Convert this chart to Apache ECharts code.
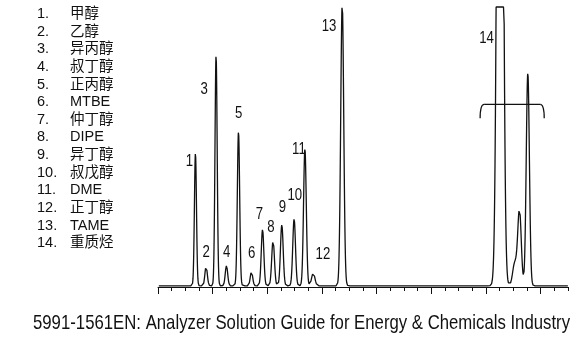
<!DOCTYPE html>
<html><head><meta charset="utf-8">
<script src="https://cdn.jsdelivr.net/npm/echarts@6/dist/echarts.min.js"></script>
<style>html,body{margin:0;padding:0;background:#fff}#c{width:583px;height:343px}</style>
</head><body><div id="c"></div>
<script>
// ---- data ----
const compoundNames = ['甲醇','乙醇','异丙醇','叔丁醇','正丙醇','MTBE','仲丁醇','DIPE','异丁醇','叔戊醇','DME','正丁醇','TAME','重质烃'];
const peakLabels = ['1','2','3','4','5','6','7','8','9','10','11','12','13','14'];
// retention (axis units), height (% of full scale), width (sigma, axis units)
const peakTimes   = [2.74, 3.52, 4.25, 5.01, 5.89, 6.84, 7.65, 8.42, 9.06, 9.96, 10.75, 11.36, 13.48];
const peakHeights = [47.5, 6.9, 82.5, 7.2, 55.1, 5.1, 20.1, 16.2, 21.8, 23.9, 48.9, 4.6, 101];
const peakWidths  = [0.075, 0.09, 0.08, 0.09, 0.085, 0.09, 0.095, 0.1, 0.1, 0.1, 0.1, 0.12, 0.11];
// heavy-hydrocarbon group (peak 14), main peak is off scale
const heavyTimes   = [25.03, 26.10, 26.45, 27.06];
const heavyHeights = [400, 8, 27, 76];
const heavyWidths  = [0.176, 0.15, 0.13, 0.115];
// label anchor points (axis units)
const labelTimes  = [2.29, 3.52, 3.38, 5.03, 5.91, 6.86, 7.43, 8.26, 9.10, 10.01, 10.31, 12.07, 12.51, 24.04];
const labelLevels = [44.8, 12.5, 70.4, 12.2, 61.9, 12.1, 25.9, 21.25, 28.3, 32.75, 49.3, 11.8, 92.9, 88.75];
// bracket over group 14: [start, end, level, foot level]
const bracket = [[23.57, 28.26, 65.25, 60.25]];
const majorTicks = [0, 4, 8, 12, 16, 20, 24, 28];
const minorTicks = [0,1,2,3,4,5,6,7,8,9,10,11,12,13,14,15,16,17,18,19,20,21,22,23,24,25,26,27,28,29,30];
const baselineLevel = 0.4;
const fullScale = 100;
const caption = '5991-1561EN: Analyzer Solution Guide for Energy & Chemicals Industry';

// ---- build trace from peak table ----
const allT = peakTimes.concat(heavyTimes), allH = peakHeights.concat(heavyHeights), allW = peakWidths.concat(heavyWidths);
const trace = [];
for (let i = 6; i <= 3000; i++) {
  const t = i / 100;
  let v = baselineLevel;
  for (let k = 0; k < allT.length; k++) {
    const d = (t - allT[k]) / allW[k];
    if (Math.abs(d) < 12) v += allH[k] * Math.exp(-0.5 * d * d);
  }
  trace.push([t, Math.min(v, fullScale)]);
}

const ink = '#111';
const sans = "'Liberation Sans','Noto Sans CJK SC',sans-serif";
const captionFont = "21px 'Liberation Sans',sans-serif";
const labelFont = "16.5px 'Liberation Sans',sans-serif";
const ctx = document.createElement('canvas').getContext('2d');
ctx.font = captionFont;
const captionScale = 537 / ctx.measureText(caption).width;

const chart = echarts.init(document.getElementById('c'), null, {renderer: 'canvas'});

const legendGraphics = [];
compoundNames.forEach((n, i) => {
  const y = 14 + 17.64 * i;
  legendGraphics.push({type: 'text', x: 37, y: y, style: {text: (i + 1) + '.', fill: ink, font: '14.5px ' + sans, textAlign: 'left', textVerticalAlign: 'middle'}});
  legendGraphics.push({type: 'text', x: 70, y: y, style: {text: n, fill: ink, font: '14.5px ' + sans, textAlign: 'left', textVerticalAlign: 'middle'}});
});
legendGraphics.push({type: 'text', x: 301.5, y: 323.5, scaleX: captionScale, style: {text: caption, fill: ink, font: captionFont, textAlign: 'center', textVerticalAlign: 'middle'}});

chart.setOption({
  animation: false,
  backgroundColor: '#fff',
  grid: {left: 158, right: 15, top: 7, bottom: 56},
  xAxis: [
    {type: 'value', min: 0, max: 30, position: 'bottom',
     axisLine: {show: true, onZero: false, lineStyle: {color: ink, width: 1}},
     axisTick: {show: true, customValues: majorTicks, length: 7, inside: false, lineStyle: {color: ink, width: 1}},
     axisLabel: {show: false}, splitLine: {show: false}},
    {type: 'value', min: 0, max: 30, position: 'bottom',
     axisLine: {show: false, onZero: false},
     axisTick: {show: true, customValues: minorTicks, length: 4, inside: false, lineStyle: {color: ink, width: 1}},
     axisLabel: {show: false}, splitLine: {show: false}}
  ],
  yAxis: {type: 'value', min: 0, max: fullScale, show: false, splitLine: {show: false}},
  series: [
    {type: 'line', data: trace, showSymbol: false, symbol: 'none', sampling: null, clip: false,
     lineStyle: {color: ink, width: 1.3}, smooth: false, z: 3},
    {type: 'custom', clip: false, z: 4,
     data: peakLabels.map((l, i) => [labelTimes[i], labelLevels[i], i]),
     renderItem: function (params, api) {
       const p = api.coord([api.value(0), api.value(1)]);
       return {type: 'text', x: p[0], y: p[1], scaleX: 0.8,
               style: {text: peakLabels[api.value(2)], fill: ink, font: labelFont, textAlign: 'center', textVerticalAlign: 'middle'}};
     }},
    {type: 'custom', data: bracket, clip: false, z: 4,
     renderItem: function (params, api) {
       const a = api.coord([api.value(0), api.value(2)]);
       const b = api.coord([api.value(1), api.value(2)]);
       const foot = api.coord([api.value(0), api.value(3)]);
       const st = {stroke: ink, lineWidth: 1.3, fill: 'none'};
       const r = 4;
       return {type: 'group', children: [
         {type: 'line', shape: {x1: a[0] + r, y1: a[1], x2: b[0] - r, y2: b[1]}, style: st},
         {type: 'bezierCurve', shape: {x1: a[0] + r, y1: a[1], cpx1: a[0], cpy1: a[1], x2: a[0], y2: foot[1]}, style: st},
         {type: 'bezierCurve', shape: {x1: b[0] - r, y1: b[1], cpx1: b[0], cpy1: b[1], x2: b[0], y2: foot[1]}, style: st}
       ]};
     }}
  ],
  graphic: legendGraphics
});
</script></body></html>
